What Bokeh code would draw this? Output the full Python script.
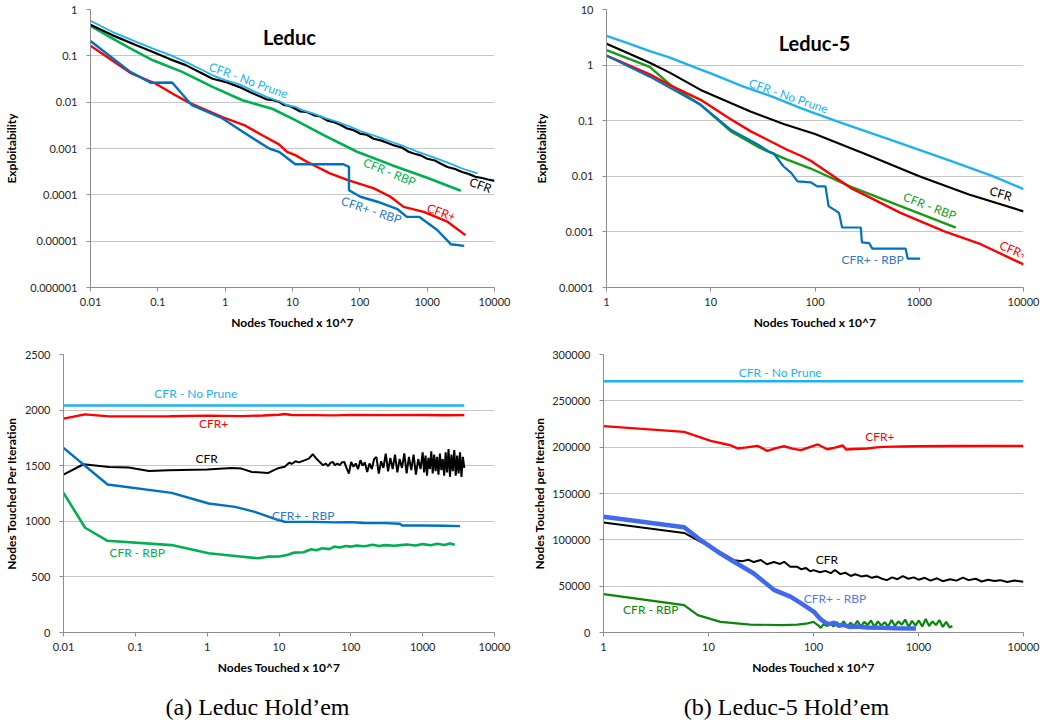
from bokeh.plotting import figure
from bokeh.layouts import column, row
from bokeh.models import FixedTicker, CustomJSTickFormatter, PrintfTickFormatter, Range1d
from bokeh.core.properties import value
from bokeh.embed import file_html
from bokeh.resources import INLINE

# ---------------- data: Leduc exploitability ----------------
L_NP_x = [0.01, 0.021, 0.05, 0.083, 0.15, 0.26, 0.45, 0.65, 1.0, 1.6, 2.5, 4.1, 6.6, 8.5, 11, 15, 21, 30, 45, 70,
          100, 140, 204, 300, 450, 700, 1000, 1500, 2200, 3300, 5600]
L_NP_y = [0.57, 0.33, 0.195, 0.145, 0.105, 0.074, 0.050, 0.038, 0.030, 0.0245, 0.018, 0.013, 0.0102, 0.0085, 0.0079,
          0.0065, 0.0056, 0.0046, 0.0038, 0.0030, 0.0024, 0.00204, 0.0017, 0.00138, 0.00112, 0.00087, 0.00072,
          0.00058, 0.00047, 0.00037, 0.00029]

L_CFR_x = [0.01, 0.021, 0.05, 0.083, 0.15, 0.26, 0.45, 0.65, 1.0, 1.6, 2.5, 4.1, 5.2, 6.3, 7.5, 9, 11, 13, 16, 21,
           26, 33, 42, 52, 65, 80, 100, 125, 160, 204, 260, 330, 420, 530, 630, 800, 1000, 1300, 1600, 2000, 2600,
           3300, 4200, 5200, 6300, 8000, 10000]
L_CFR_y = [0.47, 0.28, 0.165, 0.122, 0.085, 0.063, 0.042, 0.032, 0.0275, 0.0214, 0.0158, 0.0115, 0.011, 0.0102,
           0.0087, 0.0083, 0.0072, 0.0063, 0.0062, 0.0052, 0.0049, 0.0040, 0.0037, 0.0032, 0.0027, 0.0025, 0.0021,
           0.0020, 0.00162, 0.0015, 0.00132, 0.00115, 0.00105, 0.00085, 0.00078, 0.00071, 0.0006, 0.00055, 0.00047,
           0.0004, 0.00036, 0.00031, 0.00028, 0.000245, 0.000234, 0.000214, 0.0002]

L_RBP_x = [0.01, 0.021, 0.039, 0.083, 0.23, 0.65, 1.8, 5.0, 6.6, 11, 30, 91, 300, 1000, 3160]
L_RBP_y = [0.447, 0.237, 0.145, 0.081, 0.045, 0.0214, 0.011, 0.0072, 0.0059, 0.0041, 0.0019, 0.00085, 0.000437,
           0.000234, 0.000123]

L_CFRP_x = [0.01, 0.039, 0.092, 0.174, 0.29, 1.0, 2.0, 3.5, 6.3, 8.3, 11, 16.6, 36, 65, 162, 285, 447, 891, 2000, 3700]
L_CFRP_y = [0.166, 0.043, 0.0253, 0.0146, 0.0098, 0.0045, 0.0031, 0.00195, 0.00123, 0.00085, 0.00072, 0.00051,
            0.00029, 0.00021, 0.000138, 0.000091, 0.000055, 0.0000427, 0.0000263, 0.0000135]

L_RBPP_x = [0.01, 0.039, 0.078, 0.163, 0.32, 0.9, 2.0, 4.5, 6.3, 11, 57, 69, 69, 102, 182, 355, 500, 760, 1410,
            2240, 3550]
L_RBPP_y = [0.209, 0.045, 0.0263, 0.0265, 0.0086, 0.0045, 0.0021, 0.001, 0.00085, 0.000457, 0.000457, 0.0004,
            0.000126, 0.000091, 0.000071, 0.00005, 0.0000335, 0.0000335, 0.0000174, 0.0000086, 0.0000079]

# ---------------- data: Leduc-5 exploitability ----------------
L5_NP_x = [1, 1.5, 2.6, 4, 8, 10, 20, 40, 73, 100, 200, 500, 1000, 2000, 5000, 10000]
L5_NP_y = [3.37, 2.6, 1.79, 1.38, 0.83, 0.71, 0.42, 0.265, 0.168, 0.135, 0.085, 0.047, 0.030, 0.019, 0.0102, 0.0059]

L5_CFR_x = [1, 1.5, 2.6, 4, 8, 24, 50, 100, 316, 1000, 3000, 10000]
L5_CFR_y = [2.42, 1.74, 1.1, 0.74, 0.358, 0.146, 0.087, 0.0575, 0.0245, 0.010, 0.0047, 0.00234]

L5_CFRP_x = [1, 2.6, 4, 8, 15, 24, 54, 73, 91, 219, 316, 661, 1740, 3890, 10000]
L5_CFRP_y = [1.48, 0.68, 0.44, 0.237, 0.111, 0.065, 0.030, 0.0234, 0.019, 0.0062, 0.0044, 0.0022, 0.00102,
             0.0006, 0.00026]

L5_RBP_x = [1, 2.6, 4.1, 8, 15.5, 30, 54, 91, 219, 2240]
L5_RBP_y = [1.86, 0.93, 0.44, 0.193, 0.065, 0.032, 0.020, 0.0138, 0.0065, 0.00119]

L5_RBPP_x = [1, 2.6, 8, 15.5, 30, 36, 40, 50, 59, 68, 91, 105, 126, 135, 170, 182, 275, 282, 330, 355, 740, 776, 1020]
L5_RBPP_y = [1.48, 0.62, 0.193, 0.069, 0.035, 0.028, 0.026, 0.015, 0.0115, 0.0081, 0.0078, 0.0066, 0.0066, 0.0029,
             0.0022, 0.0012, 0.0012, 0.00065, 0.00063, 0.0005, 0.0005, 0.00033, 0.00033]

# ---------------- data: Leduc nodes touched per iteration ----------------
BL_NP_x = [0.01, 3800]
BL_NP_y = [2042, 2042]

BL_CFRP_x = [0.01, 0.02, 0.043, 0.1, 0.3, 1, 3, 6, 10, 12, 15, 30, 60, 100, 300, 1000, 2000, 3800]
BL_CFRP_y = [1923, 1962, 1944, 1944, 1945, 1950, 1946, 1952, 1958, 1965, 1956, 1955, 1953, 1957, 1955, 1956, 1954, 1955]

BL_CFR_x_early = [0.01, 0.019, 0.043, 0.081, 0.155, 0.29, 1.0, 2.2, 3.0, 4.2, 7.1, 8.5, 10, 12, 14, 15, 17, 19, 23,
                  26, 29.5, 33, 36, 41]
BL_CFR_y_early = [1420, 1513, 1489, 1483, 1453, 1459, 1465, 1480, 1474, 1444, 1435, 1460, 1480, 1490, 1528, 1515,
                  1540, 1530, 1550, 1564, 1603, 1564, 1540, 1504]
BL_CFR_x_mid = [45, 48, 52, 56, 60, 65, 70, 75, 81, 87, 94, 101, 109, 117, 126, 136, 146, 157, 169, 182, 196, 211,
                227, 245, 264, 284, 306, 330, 355, 382, 412, 444, 478, 515, 555, 598, 644, 694, 747, 805, 867, 934]
BL_CFR_y_mid = [1520, 1495, 1525, 1534, 1505, 1520, 1504, 1530, 1534, 1480, 1429, 1534, 1490, 1520, 1470, 1549,
                1500, 1530, 1444, 1520, 1470, 1560, 1579, 1429, 1540, 1480, 1609, 1450, 1570, 1470, 1600, 1440,
                1560, 1480, 1610, 1430, 1580, 1460, 1600, 1420, 1560, 1470]
BL_CFR_x_late = [1000, 1047, 1096, 1148, 1202, 1259, 1318, 1380, 1445, 1513, 1585, 1660, 1738, 1820, 1905, 1995,
                 2089, 2188, 2291, 2399, 2512, 2630, 2754, 2884, 3020, 3162, 3311, 3467, 3630, 3800]
BL_CFR_y_late = [1620, 1440, 1590, 1410, 1570, 1470, 1630, 1430, 1600, 1450, 1580, 1420, 1610, 1460, 1560, 1410,
                 1620, 1440, 1650, 1400, 1600, 1450, 1640, 1410, 1590, 1430, 1620, 1400, 1580, 1480]

BL_RBPP_x = [0.01, 0.041, 0.32, 1.05, 2.45, 4.6, 9.8, 12, 30, 60, 100, 150, 300, 480, 520, 1000, 2000, 3300]
BL_RBPP_y = [1660, 1331, 1256, 1160, 1130, 1085, 1011, 996, 995, 990, 993, 985, 984, 978, 962, 962, 960, 957]

BL_RBP_x = [0.01, 0.02, 0.041, 0.32, 1.05, 2.45, 5.1, 7, 10, 13, 16, 22, 28, 33, 40, 50, 59, 70, 85, 100, 120, 150,
            170, 200, 250, 300, 400, 490, 600, 800, 1000, 1300, 1600, 2000, 2400, 2800]
BL_RBP_y = [1256, 942, 825, 786, 712, 688, 667, 682, 683, 697, 718, 722, 748, 740, 757, 750, 772, 765, 778, 772,
            782, 775, 780, 790, 778, 786, 780, 786, 792, 782, 795, 785, 798, 786, 800, 790]

# ---------------- data: Leduc-5 nodes touched per iteration ----------------
BR_NP_x = [1, 10000]
BR_NP_y = [271200, 271200]

BR_CFRP_x = [1, 5.86, 10.5, 16.2, 18.9, 23, 29.3, 36.3, 44, 52.5, 63, 76, 92, 110, 135, 160, 190, 204, 250, 324,
             400, 468, 700, 977, 2000, 5000, 10000]
BR_CFRP_y = [222650, 216500, 206800, 202100, 198600, 199800, 201400, 196000, 199000, 201000, 198500, 196800,
             200000, 202900, 197800, 199500, 201800, 197500, 198000, 198600, 199800, 200300, 200800, 201000,
             201200, 201400, 201400]

BR_CFR_x = [1, 5.86, 8.45, 12, 17.5, 21, 24, 27, 31.5, 36, 42, 48, 52.5, 60, 70, 76, 85, 93, 100, 115, 130, 146,
            160, 180, 200, 226, 250, 285, 320, 360, 400, 450, 500, 560, 630, 710, 800, 900, 1000, 1150, 1300, 1500,
            1700, 2000, 2300, 2650, 3000, 3500, 4000, 4600, 5300, 6000, 7000, 8200, 10000]
BR_CFR_y = [118700, 107500, 97800, 88800, 78000, 77000, 78500, 76000, 78200, 73700, 76000, 74000, 76300, 71000,
            70900, 68300, 69500, 66000, 67300, 65000, 66500, 64000, 67500, 63000, 64500, 61000, 62900, 60500,
            61500, 59000, 60500, 58000, 56500, 59500, 57500, 60800, 58000, 59500, 57000, 59000, 56000, 58500,
            55400, 57500, 56000, 59300, 56500, 58000, 55000, 57000, 55500, 56500, 54500, 56000, 54700]

BR_RBPP_x = [1, 5.86, 8.45, 13, 17.5, 27, 42, 61, 81, 101, 115, 126, 140, 158, 175, 190, 220, 260, 324, 450, 600, 945]
BR_RBPP_y = [125000, 113500, 99600, 85200, 76300, 63700, 46000, 38500, 29500, 22300, 15000, 11500, 9000, 10500,
             7000, 8500, 6000, 6500, 5400, 5000, 4600, 4300]

BR_RBP_x_early = [1, 5.86, 7.9, 13, 25, 50, 70, 85, 100, 110, 117, 125, 135, 145]
BR_RBP_y_early = [41400, 29500, 18700, 11500, 8600, 7900, 8500, 9500, 11500, 8000, 5000, 9000, 7000, 10000]
BR_RBP_x_late = [155, 167, 180, 194, 209, 225, 243, 262, 282, 304, 328, 353, 381, 410, 442, 477, 514, 554, 597,
                 643, 693, 747, 805, 868, 935, 1008, 1086, 1171, 1262, 1360, 1466, 1580, 1703, 1835, 1978, 2100]
BR_RBP_y_late = [6500, 11000, 7500, 12000, 6000, 10500, 7000, 12500, 6500, 11500, 8000, 13000, 6000, 12000, 7500,
                 11000, 6500, 13500, 7000, 12000, 8500, 14000, 6000, 12500, 7500, 13000, 6500, 14500, 7000, 12000,
                 8000, 13500, 6000, 11500, 5500, 7000]

# ticks
X_TICKS_L = [0.01, 0.1, 1, 10, 100, 1000, 10000]
X_TICKS_L5 = [1, 10, 100, 1000, 10000]
Y_TICKS_EXP_L = [1e-6, 1e-5, 1e-4, 1e-3, 1e-2, 1e-1, 1]
Y_TICKS_EXP_L5 = [1e-4, 1e-3, 1e-2, 1e-1, 1, 10]
Y_TICKS_N_L = [0, 500, 1000, 1500, 2000, 2500]
Y_TICKS_N_L5 = [0, 50000, 100000, 150000, 200000, 250000, 300000]

CAPTIONS = ["(a) Leduc Hold\u2019em", "(b) Leduc-5 Hold\u2019em"]

# ---------------- styling ----------------
FONT = "Lato"
TICK_COLOR = "#262626"
AXIS_COLOR = "#8E8E8E"
GRID_COLOR = "#C6C6C6"
C_NP = "#1DB2EE"
C_RED = "#FF0000"
C_BLK = "#000000"
C_BLUE = "#0070C0"
C_GREEN = "#00B050"
C_GREEN_DK = "#159C15"
C_GREEN_DK2 = "#0A870A"
C_ROYAL = "#4169EE"

LOG_FMT_JS = """
const d = Math.max(0, -Math.round(Math.log10(tick)));
return tick.toFixed(d);
"""


def make_fig(w, h, xr, yr, ylog, borders, xticks, yticks, ylabel, ylab_standoff):
    p = figure(width=w, height=h, x_axis_type="log", y_axis_type="log" if ylog else "linear",
               x_range=Range1d(*xr), y_range=Range1d(*yr), output_backend="svg", toolbar_location=None,
               min_border_left=borders[0], min_border_right=borders[1],
               min_border_top=borders[2], min_border_bottom=borders[3])
    p.outline_line_color = None
    p.background_fill_color = "white"
    p.border_fill_color = "white"
    p.xgrid.visible = False
    xt = FixedTicker(ticks=xticks, minor_ticks=[])
    yt = FixedTicker(ticks=yticks, minor_ticks=[])
    p.xaxis.ticker = xt
    p.yaxis.ticker = yt
    p.ygrid.ticker = yt
    p.ygrid.grid_line_color = GRID_COLOR
    p.ygrid.grid_line_width = 1
    p.xaxis.formatter = CustomJSTickFormatter(code=LOG_FMT_JS)
    if ylog:
        p.yaxis.formatter = CustomJSTickFormatter(code=LOG_FMT_JS)
    else:
        p.yaxis.formatter = PrintfTickFormatter(format="%d")
    for ax in (p.xaxis[0], p.yaxis[0]):
        ax.axis_line_color = AXIS_COLOR
        ax.axis_line_width = 1
        ax.major_tick_line_color = AXIS_COLOR
        ax.major_tick_out = 4
        ax.major_tick_in = 0
        ax.minor_tick_out = 0
        ax.minor_tick_in = 0
        ax.minor_tick_line_color = None
        ax.major_label_text_font = FONT
        ax.major_label_text_font_size = "11px"
        ax.major_label_text_color = TICK_COLOR
        ax.axis_label_text_font = FONT
        ax.axis_label_text_font_size = "12px"
        ax.axis_label_text_font_style = "bold"
        ax.axis_label_text_color = "#000000"
    p.xaxis.axis_label = "Nodes Touched x 10^7"
    p.xaxis.major_label_standoff = 6
    p.xaxis.axis_label_standoff = 6
    p.yaxis.axis_label = ylabel
    p.yaxis.major_label_standoff = 9
    p.yaxis.axis_label_standoff = ylab_standoff
    return p


def lab(p, x, y, text, color, angle=0.0, size="12px", style="normal"):
    p.text(x=[x], y=[y], text=[text], angle=angle, text_color=color, text_font=value(FONT),
           text_font_size=value(size), text_font_style=style, text_align="center", text_baseline="middle")


# ---------------- top-left: Leduc exploitability ----------------
f1 = make_fig(520, 340, (0.01, 10000), (1e-6, 1), True, (90, 26, 9, 53), X_TICKS_L, Y_TICKS_EXP_L,
              "Exploitability", 8)
f1.line(L_RBP_x, L_RBP_y, line_color=C_GREEN, line_width=2.6)
f1.line(L_CFRP_x, L_CFRP_y, line_color=C_RED, line_width=2.4)
f1.line(L_RBPP_x, L_RBPP_y, line_color=C_BLUE, line_width=2.4)
f1.line(L_CFR_x, L_CFR_y, line_color=C_BLK, line_width=2.2)
f1.line(L_NP_x, L_NP_y, line_color=C_NP, line_width=1.8)
lab(f1, 9.0, 0.252, "Leduc", "#000000", size="20px", style="bold")
lab(f1, 2.22, 0.0298, "CFR - No Prune", C_NP, angle=-0.35)
lab(f1, 277, 0.00031, "CFR - RBP", C_GREEN, angle=-0.39)
lab(f1, 6200, 0.000162, "CFR", C_BLK, angle=-0.35)
lab(f1, 148, 0.0000467, "CFR+ - RBP", "#2F78C8", angle=-0.32)
lab(f1, 1620, 0.0000422, "CFR+", C_RED, angle=-0.35)

# ---------------- top-right: Leduc-5 exploitability ----------------
f2 = make_fig(522, 340, (1, 10000), (1e-4, 10), True, (86, 19, 9, 52), X_TICKS_L5, Y_TICKS_EXP_L5,
              "Exploitability", 7)
f2.line(L5_NP_x, L5_NP_y, line_color=C_NP, line_width=2.4)
f2.line(L5_CFR_x, L5_CFR_y, line_color=C_BLK, line_width=2.2)
f2.line(L5_RBP_x, L5_RBP_y, line_color=C_GREEN_DK, line_width=2.4)
f2.line(L5_CFRP_x, L5_CFRP_y, line_color=C_RED, line_width=2.4)
f2.line(L5_RBPP_x, L5_RBPP_y, line_color=C_BLUE, line_width=2.2)
lab(f2, 99, 2.49, "Leduc-5", "#000000", size="20px", style="bold")
lab(f2, 55.8, 0.28, "CFR - No Prune", C_NP, angle=-0.33)
lab(f2, 6060, 0.0049, "CFR", C_BLK, angle=-0.3)
lab(f2, 1260, 0.0029, "CFR - RBP", C_GREEN_DK, angle=-0.37)
lab(f2, 8050, 0.00047, "CFR+", C_RED, angle=-0.4)
lab(f2, 357, 0.00032, "CFR+ - RBP", "#2F78C8")

# ---------------- bottom-left: Leduc nodes per iteration ----------------
f3 = make_fig(520, 340, (0.01, 10000), (0, 2500), False, (61, 26, 14, 47), X_TICKS_L, Y_TICKS_N_L,
              "Nodes Touched Per Iteration", 3)
f3.line(BL_NP_x, BL_NP_y, line_color=C_NP, line_width=2.6)
f3.line(BL_CFRP_x, BL_CFRP_y, line_color=C_RED, line_width=2.4)
f3.line(BL_CFR_x_early + BL_CFR_x_mid + BL_CFR_x_late, BL_CFR_y_early + BL_CFR_y_mid + BL_CFR_y_late,
        line_color=C_BLK, line_width=2.0)
f3.line(BL_RBPP_x, BL_RBPP_y, line_color=C_BLUE, line_width=2.4)
f3.line(BL_RBP_x, BL_RBP_y, line_color=C_GREEN, line_width=2.6)
lab(f3, 0.695, 2150, "CFR - No Prune", C_NP)
lab(f3, 1.23, 1881, "CFR+", C_RED)
lab(f3, 0.986, 1567, "CFR", C_BLK)
lab(f3, 21.7, 1056, "CFR+ - RBP", "#2F78C8")
lab(f3, 0.106, 715, "CFR - RBP", C_GREEN)

# ---------------- bottom-right: Leduc-5 nodes per iteration ----------------
f4 = make_fig(522, 340, (1, 10000), (0, 300000), False, (83, 19, 14, 48), X_TICKS_L5, Y_TICKS_N_L5,
              "Nodes Touched per Iteration", 2)
f4.line(BR_NP_x, BR_NP_y, line_color=C_NP, line_width=2.6)
f4.line(BR_CFRP_x, BR_CFRP_y, line_color=C_RED, line_width=2.4)
f4.line(BR_RBP_x_early + BR_RBP_x_late, BR_RBP_y_early + BR_RBP_y_late, line_color=C_GREEN_DK2, line_width=2.2)
f4.line(BR_CFR_x, BR_CFR_y, line_color=C_BLK, line_width=2.0)
f4.line(BR_RBPP_x, BR_RBPP_y, line_color=C_ROYAL, line_width=4.5)
lab(f4, 48.2, 280200, "CFR - No Prune", C_NP)
lab(f4, 428, 211100, "CFR+", C_RED)
lab(f4, 134, 78800, "CFR", C_BLK)
lab(f4, 160, 36700, "CFR+ - RBP", "#5A78F0")
lab(f4, 2.82, 24800, "CFR - RBP", C_GREEN_DK2)

# ---------------- captions ----------------
fc = figure(width=1042, height=42, x_range=Range1d(0, 1042), y_range=Range1d(0, 42), output_backend="svg",
            toolbar_location=None, x_axis_type=None, y_axis_type=None, min_border=0, title=None)
fc.outline_line_color = None
fc.xgrid.visible = False
fc.ygrid.visible = False
fc.text(x=[257, 786], y=[16, 16], text=CAPTIONS,
        text_font=value("Liberation Serif"), text_font_size=value("24px"), text_color="#000000",
        text_align="center", text_baseline="middle")

lay = column(row(f1, f2), row(f3, f4), fc,
             styles={"position": "absolute", "left": "0px", "top": "0px"})

open("out.html", "w").write(file_html(lay, INLINE))
